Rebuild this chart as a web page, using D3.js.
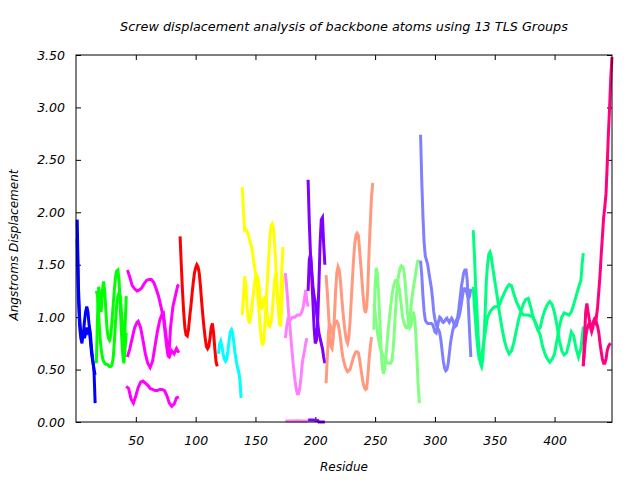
<!DOCTYPE html>
<html>
<head>
<meta charset="utf-8">
<script src="https://cdn.jsdelivr.net/npm/d3@7"></script>
<style>
  body { margin: 0; background: #fff; }
  text { font-family: "DejaVu Sans", sans-serif; font-style: oblique; fill: #000; }
</style>
</head>
<body>
<div id="chart"></div>
<script>
// residue / displacement pairs, one array per plotted line
var blue1 = [[1,1.93],[2,1.3],[3,1.0],[4,0.85],[5,0.78],[6,0.82],[7,0.95],[8,1.05],[9,1.1],[10,1.05],[11,0.92],[12,0.85],[13,0.7],[14,0.6],[15,0.5],[16,0.18]];
var blue2 = [[1,1.75],[2,1.2],[3,0.92],[4,0.8],[5,0.75],[6,0.86],[7,0.8],[8,0.84],[9,0.9],[10,0.86],[11,0.88],[12,0.78],[13,0.65],[14,0.58],[15,0.5],[16,0.45]];

var green1 = [[17,0.56],[18,1.0],[19,1.29],[20,1.15],[21,1.05],[22,1.25],[23,1.34],[24,1.25],[25,1.05],[26,0.88],[27,0.8],[28,0.78],[29,0.82],[30,0.95],[31,1.1],[32,1.25],[33,1.38],[34,1.44],[35,1.45],[36,1.35],[37,1.1],[38,0.85],[39,0.65],[40,0.56],[41,0.7],[42,0.85]];
var green2 = [[17,1.25],[18,1.2],[19,1.0],[20,0.82],[21,0.7],[22,0.62],[23,0.58],[24,0.56],[25,0.55],[26,0.55],[27,0.54],[28,0.53],[29,0.53],[30,0.54],[31,0.6],[32,0.75],[33,0.95],[34,1.12],[35,1.2],[36,1.23],[37,1.2],[38,1.05],[39,0.85],[40,0.7],[41,0.9],[42,1.2]];

var magenta1 = [[43,1.45],[45,1.38],[47,1.3],[49,1.27],[51,1.25],[53,1.26],[55,1.28],[57,1.32],[59,1.35],[61,1.36],[63,1.36],[65,1.33],[67,1.27],[69,1.2],[71,1.1],[73,1.0],[74,0.9],[75,0.8],[76,0.7],[77,0.63],[78,0.62],[80,0.68],[82,0.65],[84,0.7],[86,0.66]];
var magenta2 = [[43,0.62],[45,0.7],[47,0.8],[49,0.9],[51,0.95],[52,0.96],[54,0.9],[56,0.78],[58,0.65],[60,0.56],[62,0.52],[64,0.58],[66,0.72],[68,0.86],[70,0.97],[72,1.03],[73,1.04],[75,0.85],[77,0.65],[78,0.7],[79,0.9],[81,1.1],[83,1.2],[85,1.3],[86,1.31]];
var magenta3 = [[42,0.34],[44,0.32],[46,0.22],[48,0.18],[50,0.25],[52,0.33],[54,0.38],[56,0.39],[58,0.37],[60,0.35],[62,0.32],[64,0.31],[66,0.3],[68,0.3],[70,0.31],[72,0.31],[74,0.3],[76,0.25],[78,0.18],[80,0.15],[82,0.17],[84,0.23],[86,0.24]];

var red1 = [[87,1.77],[88,1.5],[89,1.25],[90,1.05],[91,0.9],[92,0.83],[93,0.82],[94,0.88],[95,1.0],[96,1.1],[97,1.22],[98,1.33],[99,1.42],[100,1.47],[101,1.5],[102,1.48],[103,1.42],[104,1.3],[105,1.15],[106,1.02],[107,0.9],[108,0.8],[109,0.72],[110,0.7],[111,0.72],[112,0.8],[113,0.9],[114,0.94],[115,0.85],[116,0.7],[117,0.58],[118,0.53]];

var cyan1 = [[119,0.65],[120,0.74],[121,0.77],[122,0.72],[123,0.65],[124,0.6],[125,0.58],[126,0.6],[127,0.68],[128,0.78],[129,0.86],[130,0.88],[131,0.84],[132,0.75],[133,0.65],[134,0.58],[135,0.52],[136,0.48],[137,0.4],[138,0.23]];

var yellow1 = [[139,2.24],[140,2.0],[141,1.83],[142,1.84],[143,1.82],[144,1.78],[145,1.74],[146,1.7],[147,1.65],[148,1.58],[149,1.5],[150,1.42],[151,1.35],[152,1.2],[153,1.05],[154,0.9],[155,0.78],[156,0.73],[157,0.78],[158,0.95],[159,1.15],[160,1.35],[161,1.55],[162,1.75],[163,1.87],[164,1.89],[165,1.85],[166,1.7],[167,1.5],[168,1.3],[169,1.12],[170,1.0],[171,1.1],[172,1.45],[173,1.67]];
var yellow2 = [[139,1.02],[140,1.2],[141,1.39],[142,1.3],[143,1.1],[144,0.98],[145,0.94],[146,1.0],[147,1.1],[148,1.2],[149,1.3],[150,1.38],[151,1.4],[152,1.38],[153,1.3],[154,1.15],[155,1.07],[156,1.1],[157,1.18],[158,1.19],[159,1.12],[160,1.0],[161,0.92],[162,0.91],[163,0.95],[164,1.05],[165,1.2],[166,1.35],[167,1.42],[168,1.3],[169,1.1],[170,0.95],[171,0.91],[172,1.1],[173,1.39]];

var pink1 = [[175,0.8],[176,0.9],[177,0.97],[178,0.95],[179,0.97],[180,0.99],[181,1.0],[182,1.0],[183,1.0],[184,1.01],[185,1.02],[186,1.02],[187,1.02],[188,1.03],[189,1.06],[190,1.1],[191,1.18],[192,1.26],[193,1.15],[194,1.1]];
var pink2 = [[175,1.42],[176,1.3],[177,1.15],[178,1.0],[179,0.88],[180,0.75],[181,0.62],[182,0.5],[183,0.4],[184,0.32],[185,0.27],[186,0.27],[187,0.32],[188,0.42],[189,0.55],[190,0.62],[191,0.68],[192,0.75],[193,0.8]];
var pink3 = [[175,0.01],[180,0.01],[185,0.012],[190,0.01],[194,0.01]];

var purple1 = [[194,2.31],[195,1.9],[196,1.6],[197,1.4],[198,1.15],[199,0.9],[200,0.75],[201,0.78],[202,0.95],[203,1.3],[204,1.7],[205,1.93],[206,1.95],[207,1.7],[208,1.5]];
var purple2 = [[194,1.25],[195,1.55],[196,1.6],[197,1.45],[198,1.3],[199,1.2],[200,1.15],[201,1.05],[202,0.95],[203,0.85],[204,0.8],[205,0.75],[206,0.7],[207,0.62],[208,0.56]];
var purple3 = [[194,0.02],[198,0.02],[202,0.015],[203,0.0],[208,0.0]];

var salmon1 = [[209,1.4],[210,1.25],[211,1.05],[212,0.85],[213,0.72],[214,0.7],[215,0.8],[216,1.0],[217,1.25],[218,1.42],[219,1.48],[220,1.45],[221,1.35],[222,1.2],[223,1.07],[224,0.95],[225,0.85],[226,0.78],[227,0.75],[228,0.8],[229,0.95],[230,1.15],[231,1.35],[232,1.55],[233,1.7],[234,1.78],[235,1.8],[236,1.78],[237,1.65],[238,1.5],[239,1.35],[240,1.2],[241,1.08],[242,1.04],[243,1.1],[244,1.3],[245,1.64],[246,1.9],[247,2.15],[248,2.28]];
var salmon2 = [[209,0.37],[210,0.6],[211,0.85],[212,0.94],[213,0.9],[214,0.86],[215,0.88],[216,0.92],[217,0.95],[218,0.96],[219,0.94],[220,0.88],[221,0.8],[222,0.7],[223,0.62],[224,0.57],[225,0.53],[226,0.5],[227,0.48],[228,0.49],[229,0.5],[230,0.54],[231,0.58],[232,0.62],[233,0.65],[234,0.67],[235,0.67],[236,0.66],[237,0.6],[238,0.52],[239,0.44],[240,0.37],[241,0.33],[242,0.31],[243,0.32],[244,0.45],[245,0.6],[246,0.72],[247,0.81]];

var lgreen1 = [[249,0.88],[250,1.3],[251,1.47],[252,1.4],[253,1.2],[254,0.95],[255,0.7],[256,0.52],[257,0.46],[258,0.5],[259,0.62],[260,0.75],[261,0.88],[262,1.0],[263,1.1],[264,1.2],[265,1.27],[266,1.32],[267,1.35],[268,1.35],[269,1.33],[270,1.28],[271,1.2],[272,1.1],[273,1.0],[274,0.95],[275,0.92],[276,0.9],[277,0.9],[278,0.93],[279,1.0],[280,1.1],[281,1.2],[282,1.28],[283,1.35],[284,1.42],[285,1.5],[286,1.55]];
var lgreen2 = [[249,1.13],[250,1.05],[251,0.95],[252,0.85],[253,0.78],[254,0.72],[255,0.68],[256,0.65],[257,0.62],[258,0.6],[259,0.58],[260,0.57],[261,0.56],[262,0.56],[263,0.56],[264,0.58],[265,0.68],[266,0.85],[267,1.05],[268,1.22],[269,1.35],[270,1.42],[271,1.47],[272,1.49],[273,1.48],[274,1.45],[275,1.35],[276,1.2],[277,1.05],[278,0.95],[279,0.9],[280,0.92],[281,1.0],[282,1.05],[283,1.0],[284,0.85],[285,0.6],[286,0.35],[287,0.18]];

var lblue1 = [[288,2.74],[289,2.3],[290,1.96],[291,1.7],[292,1.58],[293,1.54],[294,1.5],[295,1.42],[296,1.35],[297,1.28],[298,1.18],[299,1.05],[300,0.98],[301,0.93],[302,0.9],[303,0.88],[304,0.85],[305,0.78],[306,0.68],[307,0.58],[308,0.52],[309,0.49],[310,0.5],[311,0.55],[312,0.65],[313,0.75],[314,0.82],[315,0.88],[316,0.92],[317,0.95],[318,0.97],[319,1.0],[320,1.08],[321,1.18],[322,1.28],[323,1.35],[324,1.42],[325,1.45],[326,1.45],[327,1.35],[328,1.1],[329,0.85],[330,0.62]];
var lblue2 = [[288,1.54],[289,1.4],[290,1.2],[291,1.05],[292,0.97],[293,0.95],[294,0.94],[295,0.94],[296,0.94],[297,0.94],[298,0.93],[299,0.9],[300,0.86],[301,0.85],[302,0.9],[303,0.96],[304,1.0],[305,0.99],[306,0.96],[307,0.95],[308,0.96],[309,0.98],[310,0.99],[311,0.97],[312,0.95],[313,0.97],[314,0.99],[315,0.97],[316,0.93],[317,0.91],[318,0.92],[319,0.97],[320,1.0],[321,1.05],[322,1.12],[323,1.2],[324,1.27],[325,1.27],[326,1.25],[327,1.22],[328,1.18],[329,1.2],[330,1.27]];

var spring1 = [[332,1.83],[333,1.6],[334,1.3],[335,1.1],[336,0.85],[337,0.65],[338,0.56],[339,0.53],[340,0.6],[341,0.8],[342,1.05],[343,1.35],[344,1.5],[345,1.6],[346,1.62],[347,1.58],[348,1.5],[350,1.35],[352,1.2],[354,1.04],[356,0.9],[358,0.78],[360,0.7],[362,0.65],[364,0.68],[366,0.76],[368,0.87],[370,0.98],[372,1.06],[374,1.13],[376,1.17],[378,1.18],[380,1.1],[382,1.0],[384,0.94],[386,0.88],[388,0.83],[390,0.72],[392,0.65],[394,0.6],[396,0.57],[398,0.6],[400,0.65],[402,0.78],[404,0.91],[406,1.0],[408,1.04],[410,1.03],[412,1.02],[414,1.05],[416,1.12],[418,1.2],[420,1.28],[422,1.35],[423,1.5],[424,1.61]];
var spring2 = [[332,1.29],[333,1.1],[334,0.95],[335,0.8],[336,0.68],[337,0.6],[338,0.6],[340,0.7],[342,0.85],[344,1.0],[346,1.05],[348,1.08],[350,1.1],[352,1.1],[354,1.12],[356,1.18],[358,1.23],[360,1.28],[362,1.31],[364,1.3],[366,1.22],[368,1.15],[370,1.1],[372,1.05],[374,1.02],[376,1.02],[378,1.02],[380,1.01],[382,1.0],[384,0.95],[386,0.88],[388,0.9],[390,1.0],[392,1.07],[394,1.12],[396,1.15],[398,1.12],[400,1.04],[402,0.92],[404,0.78],[406,0.68],[408,0.64],[410,0.66],[412,0.75],[414,0.86],[416,0.82],[418,0.7],[420,0.62],[422,0.7],[424,0.91]];

var dpink1 = [[424,0.53],[425,0.8],[426,1.05],[427,1.13],[428,1.05],[429,0.98],[430,0.92],[431,0.9],[432,0.94],[433,0.97],[434,0.95],[435,1.0],[436,1.1],[437,1.25],[438,1.4],[439,1.6],[440,1.77],[441,1.95],[442,2.05],[443,2.18],[444,2.45],[445,2.75],[446,3.0],[447,3.29],[448,3.48]];
var dpink2 = [[424,0.54],[425,0.68],[426,0.81],[427,0.88],[428,0.92],[429,0.94],[430,0.9],[431,0.86],[432,0.9],[433,0.97],[434,0.99],[435,0.95],[436,0.91],[437,0.85],[438,0.75],[439,0.67],[440,0.6],[441,0.56],[442,0.56],[443,0.6],[444,0.68],[445,0.72],[446,0.74],[447,0.75]];

// one colour per TLS group
var groupColors = ["#0000ff","#00ff00","#ff00ff","#ff0000","#00ffff","#ffff00","#ff80ff","#8000ff","#ff9980","#80ff80","#8080ff","#00ff80","#ff0080"];
var groupLines = [
  [blue1, blue2], [green1, green2], [magenta1, magenta2, magenta3], [red1], [cyan1],
  [yellow1, yellow2], [pink1, pink2, pink3], [purple1, purple2, purple3], [salmon1, salmon2],
  [lgreen1, lgreen2], [lblue1, lblue2], [spring1, spring2], [dpink1, dpink2]
];

var xTicks = [50,100,150,200,250,300,350,400];
var yTicks = [0,0.5,1,1.5,2,2.5,3,3.5];

var margin = {top: 55, right: 28, bottom: 58, left: 76},
  width = 640 - margin.left - margin.right,
  height = 480 - margin.top - margin.bottom;

var svg = d3.select("#chart")
.append("svg")
  .attr("width", 640)
  .attr("height", 480);

var g = svg.append("g")
  .attr("transform", "translate(" + margin.left + "," + margin.top + ")");

var x = d3.scaleLinear().domain([0, 448]).range([0, width]);
var y = d3.scaleLinear().domain([0, 3.5]).range([height, 0]);

// axes with inward ticks on all four sides
g.append("g")
  .attr("transform", "translate(0," + height + ")")
  .call(d3.axisBottom(x).tickValues(xTicks).tickSizeInner(-5).tickSizeOuter(0).tickPadding(14))
  .call(function(a) { a.select(".domain").remove(); });
g.append("g")
  .call(d3.axisTop(x).tickValues(xTicks).tickSizeInner(-5).tickSizeOuter(0).tickFormat(""))
  .call(function(a) { a.select(".domain").remove(); });
g.append("g")
  .call(d3.axisLeft(y).tickValues(yTicks).tickSizeInner(-5).tickSizeOuter(0).tickPadding(11).tickFormat(d3.format(".2f")))
  .call(function(a) { a.select(".domain").remove(); });
g.append("g")
  .attr("transform", "translate(" + width + ",0)")
  .call(d3.axisRight(y).tickValues(yTicks).tickSizeInner(-5).tickSizeOuter(0).tickFormat(""))
  .call(function(a) { a.select(".domain").remove(); });

g.selectAll(".tick line").attr("stroke", "#000");
g.selectAll(".tick text").style("font-size", "12.5px").style("font-family", "DejaVu Sans").style("font-style", "oblique");

var line = d3.line()
  .x(function(d) { return x(d[0]); })
  .y(function(d) { return y(d[1]); });

groupLines.forEach(function(lines, i) {
  g.selectAll(null)
    .data(lines)
    .enter()
    .append("path")
    .attr("d", line)
    .attr("fill", "none")
    .attr("stroke", groupColors[i])
    .attr("stroke-width", 3)
    .attr("stroke-linejoin", "miter");
});

// frame
g.append("rect")
  .attr("width", width)
  .attr("height", height)
  .attr("fill", "none")
  .attr("stroke", "#000")
  .attr("stroke-width", 1);

svg.append("text")
  .attr("x", margin.left + width / 2)
  .attr("y", 31)
  .attr("text-anchor", "middle")
  .style("font-size", "12.8px")
  .text("Screw displacement analysis of backbone atoms using 13 TLS Groups");

svg.append("text")
  .attr("x", margin.left + width / 2)
  .attr("y", 471)
  .attr("text-anchor", "middle")
  .style("font-size", "12px")
  .text("Residue");

svg.append("text")
  .attr("transform", "translate(18," + 245 + ") rotate(-90)")
  .attr("text-anchor", "middle")
  .style("font-size", "12px")
  .text("Angstroms Displacement");
</script>
</body>
</html>
